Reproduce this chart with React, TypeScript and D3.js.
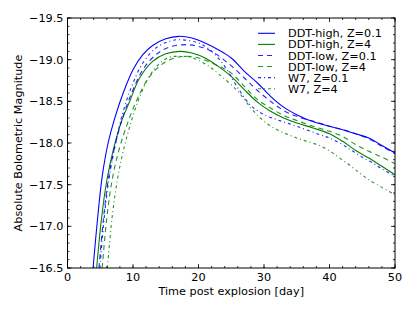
import React from "react";
import * as d3 from "d3";

// ---- data (day, absolute bolometric magnitude) ----
const ddtHighZ01: [number, number][] = [
  [3.9, -16.5], [4.6, -17.1], [5.3, -17.6], [6.2, -18.0], [7.3, -18.32], [8.5, -18.6],
  [10, -18.88], [11.5, -19.06], [13, -19.17], [15, -19.25], [17, -19.28], [19, -19.26],
  [21, -19.2], [23, -19.12], [25, -19.02], [27, -18.86], [29, -18.72], [31, -18.56],
  [33, -18.43], [35, -18.34], [37, -18.27], [40, -18.2], [42, -18.16], [44, -18.11],
  [46, -18.06], [48, -17.97], [50, -17.88],
];
const ddtHighZ4: [number, number][] = [
  [4.45, -16.5], [5.2, -17.1], [6.0, -17.55], [7.0, -17.92], [8.2, -18.25], [9.5, -18.5],
  [11, -18.78], [13, -18.98], [15, -19.07], [17.2, -19.1], [19, -19.08], [21, -19.02],
  [23, -18.92], [25, -18.8], [27, -18.64], [29, -18.49], [31, -18.38], [33, -18.3],
  [35, -18.24], [37.5, -18.18], [40, -18.11], [42, -18.02], [44, -17.91], [46, -17.82],
  [48, -17.72], [50, -17.62],
];
const ddtLowZ01: [number, number][] = [
  [4.8, -16.5], [5.5, -17.1], [6.3, -17.6], [7.2, -17.95], [8.4, -18.3], [9.8, -18.6],
  [11.5, -18.88], [13.5, -19.06], [15.5, -19.15], [18, -19.18], [20, -19.16], [22, -19.1],
  [24.8, -18.94], [27, -18.78], [29, -18.63], [31, -18.5], [33, -18.39], [35, -18.32],
  [38, -18.25], [40, -18.2], [42, -18.16], [44, -18.11], [46, -18.05], [48, -17.96],
  [50, -17.87],
];
const ddtLowZ4: [number, number][] = [
  [5.3, -16.5], [6.0, -17.1], [6.8, -17.55], [7.8, -17.9], [9.0, -18.2], [10.5, -18.5],
  [12.2, -18.76], [14, -18.92], [16, -19.01], [18, -19.04], [20, -19.02], [22, -18.96],
  [24.8, -18.85], [27, -18.68], [29, -18.52], [31, -18.42], [33, -18.33], [35, -18.27],
  [37.5, -18.2], [40, -18.14], [42, -18.08], [44, -17.98], [46, -17.9], [48, -17.83],
  [50, -17.75],
];
const w7Z01: [number, number][] = [
  [4.95, -16.5], [5.6, -17.1], [6.4, -17.6], [7.3, -17.98], [8.4, -18.35], [9.8, -18.68],
  [11.5, -18.96], [13.5, -19.14], [15.5, -19.22], [17, -19.24], [20, -19.2], [22, -19.1],
  [24, -18.92], [26, -18.66], [28, -18.45], [30, -18.34], [32, -18.28], [35, -18.2],
  [38.5, -18.1], [40, -18.06], [42, -17.98], [43.6, -17.9], [45, -17.83], [46.6, -17.76],
  [48, -17.69], [50, -17.6],
];
const w7Z4: [number, number][] = [
  [6.1, -16.5], [6.8, -17.1], [7.6, -17.55], [8.5, -17.9], [9.7, -18.25], [11, -18.55],
  [12.5, -18.8], [14, -18.95], [15.6, -19.03], [17, -19.04], [18.7, -19.03], [21.2, -18.94],
  [23.2, -18.82], [26, -18.62], [28, -18.42], [30, -18.26], [32, -18.16], [35, -18.06],
  [39, -17.95], [42.6, -17.76], [46, -17.56], [50, -17.38],
];

const seriesNames = [
  "DDT-high, Z=0.1",
  "DDT-high, Z=4",
  "DDT-low, Z=0.1",
  "DDT-low, Z=4",
  "W7, Z=0.1",
  "W7, Z=4",
];
const seriesData = [ddtHighZ01, ddtHighZ4, ddtLowZ01, ddtLowZ4, w7Z01, w7Z4];

const xTicks = [0, 10, 20, 30, 40, 50];
const yTicks = [-19.5, -19.0, -18.5, -18.0, -17.5, -17.0, -16.5];
const xLabel = "Time post explosion [day]";
const yLabel = "Absolute Bolometric Magnitude";

// ---- styles ----
const BLUE = "#0000ff";
const GREEN = "#008000";
const styles = [
  { color: BLUE, dash: "none", op: 1 },
  { color: GREEN, dash: "none", op: 1 },
  { color: BLUE, dash: "5,4", op: 0.85 },
  { color: GREEN, dash: "5,4", op: 0.85 },
  { color: BLUE, dash: "3,3,1,3", op: 0.85 },
  { color: GREEN, dash: "3,3,1,3", op: 0.85 },
];

const W = 415;
const H = 312;
const L = 67.5;
const R = 395;
const T = 18;
const B = 268;
const FONT = "'DejaVu Sans', sans-serif";
const FS = 11.25;

export default function App() {
  const x = d3.scaleLinear().domain([0, 50]).range([L, R]);
  const y = d3.scaleLinear().domain([-19.5, -16.5]).range([T, B]);
  const line = d3
    .line<[number, number]>()
    .x((d) => x(d[0]))
    .y((d) => y(d[1]))
    .curve(d3.curveCatmullRom.alpha(0.5));

  const xMinor = d3.range(0, 50.001, 2);
  const yMinor = d3.range(-19.5, -16.499, 0.1);
  const fmt = (v: number) => v.toFixed(1).replace("-", "\u2212");

  return (
    <svg
      width={W}
      height={H}
      style={{ position: "absolute", left: 0, top: 0, background: "#fff" }}
      fontFamily={FONT}
    >
      <defs>
        <clipPath id="plotclip">
          <rect x={L} y={T} width={R - L} height={B - T} />
        </clipPath>
      </defs>
      <rect x={0} y={0} width={W} height={H} fill="#fff" />

      <g clipPath="url(#plotclip)">
        {seriesData.map((d, i) => (
          <path
            key={i}
            d={line(d) || ""}
            fill="none"
            stroke={styles[i].color}
            strokeWidth={1.1}
            strokeDasharray={styles[i].dash}
            strokeOpacity={styles[i].op}
          />
        ))}
      </g>

      {/* minor ticks */}
      {xMinor.map((v, i) => (
        <g key={"xm" + i} stroke="#000" strokeWidth={0.8}>
          <line x1={x(v)} x2={x(v)} y1={B} y2={B - 2} />
          <line x1={x(v)} x2={x(v)} y1={T} y2={T + 2} />
        </g>
      ))}
      {yMinor.map((v, i) => (
        <g key={"ym" + i} stroke="#000" strokeWidth={0.8}>
          <line x1={L} x2={L + 2} y1={y(v)} y2={y(v)} />
          <line x1={R} x2={R - 2} y1={y(v)} y2={y(v)} />
        </g>
      ))}
      {/* major ticks */}
      {xTicks.map((v, i) => (
        <g key={"xt" + i}>
          <line x1={x(v)} x2={x(v)} y1={B} y2={B - 4} stroke="#000" strokeWidth={0.8} />
          <line x1={x(v)} x2={x(v)} y1={T} y2={T + 4} stroke="#000" strokeWidth={0.8} />
          <text x={x(v)} y={B + 4} dy="0.76em" textAnchor="middle" fontSize={FS} fill="#000">
            {v}
          </text>
        </g>
      ))}
      {yTicks.map((v, i) => (
        <g key={"yt" + i}>
          <line x1={L} x2={L + 4} y1={y(v)} y2={y(v)} stroke="#000" strokeWidth={0.8} />
          <line x1={R} x2={R - 4} y1={y(v)} y2={y(v)} stroke="#000" strokeWidth={0.8} />
          <text x={L - 4} y={y(v)} dy="0.36em" textAnchor="end" fontSize={FS} fill="#000">
            {fmt(v)}
          </text>
        </g>
      ))}

      <rect x={L} y={T} width={R - L} height={B - T} fill="none" stroke="#000" strokeWidth={1} />

      <text x={(L + R) / 2} y={295} textAnchor="middle" fontSize={FS} fill="#000">
        {xLabel}
      </text>
      <text
        transform={`translate(22, ${(T + B) / 2}) rotate(-90)`}
        textAnchor="middle"
        fontSize={FS}
        fill="#000"
      >
        {yLabel}
      </text>

      {/* legend */}
      {seriesNames.map((name, i) => {
        const cy = 33.3 + i * 11.08;
        return (
          <g key={"lg" + i}>
            <line
              x1={258}
              x2={275}
              y1={cy}
              y2={cy}
              stroke={styles[i].color}
              strokeWidth={1.1}
              strokeDasharray={styles[i].dash}
              strokeOpacity={styles[i].op}
            />
            <text x={288} y={cy} dy="0.36em" fontSize={FS} fill="#000">
              {name}
            </text>
          </g>
        );
      })}
    </svg>
  );
}
